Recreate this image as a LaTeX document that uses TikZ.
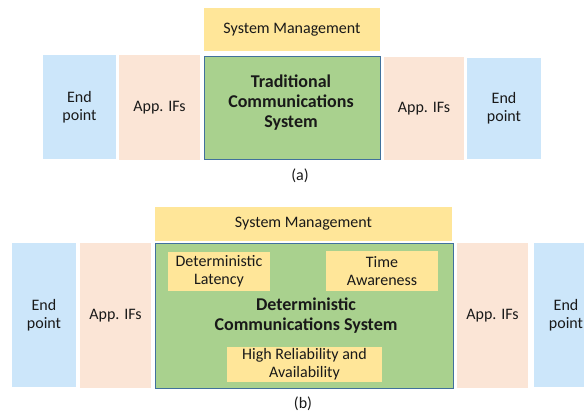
\documentclass[tikz,border=0pt]{standalone}
\usepackage{fontspec}
\setmainfont{Carlito}
\definecolor{epblue}{HTML}{CCE6FA}
\definecolor{apppeach}{HTML}{FBE5D6}
\definecolor{mgmtyellow}{HTML}{FFE699}
\definecolor{coregreen}{HTML}{A9D18E}
\definecolor{coreedge}{HTML}{41719C}
\tikzset{
  base/.style={inner sep=0pt, outer sep=0pt, align=center, font=\fontsize{16}{18}\selectfont, text=black!90},
  endbox/.style={base, fill=epblue},
  appbox/.style={base, fill=apppeach},
  mgmtbox/.style={base, fill=mgmtyellow},
  corebox/.style={base, fill=coregreen, draw=coreedge, line width=1pt},
  titletext/.style={base, font=\fontsize{18}{20}\selectfont\bfseries},
  caption/.style={base}
}
\begin{document}
\begin{tikzpicture}[x=1pt,y=-1pt]
\useasboundingbox (0,0) rectangle (584,412);
\clip (0,0) rectangle (584,412);
% (a)
\node[mgmtbox, minimum width=176pt, minimum height=43pt] (sysA) at (292,29.5) {System Management};
\node[endbox, minimum width=73pt, minimum height=104pt] (endAL) at (79.5,107) {End\\point};
\node[appbox, minimum width=81pt, minimum height=105pt] (appAL) at (159.5,107.5) {App. IFs};
\node[corebox, minimum width=176pt, minimum height=102pt] (coreA) at (292,108) {};
\node[titletext] (titleA) at (291,103) {Traditional\\Communications\\System};
\node[appbox, minimum width=80pt, minimum height=103pt] (appAR) at (424,108.5) {App. IFs};
\node[endbox, minimum width=74pt, minimum height=101pt] (endAR) at (504,108.5) {End\\point};
\node[caption] (labA) at (300,176) {(a)};
% (b)
\node[mgmtbox, minimum width=297pt, minimum height=34pt] (sysB) at (303.5,224) {System Management};
\node[endbox, minimum width=64pt, minimum height=144pt] (endBL) at (44,315) {End\\point};
\node[appbox, minimum width=71pt, minimum height=145pt] (appBL) at (115.5,315.5) {App. IFs};
\node[corebox, minimum width=298pt, minimum height=145pt] (coreB) at (304,315.5) {};
\node[mgmtbox, minimum width=102pt, minimum height=39pt] (lat) at (219,271.5) {Deterministic\\Latency};
\node[mgmtbox, minimum width=112pt, minimum height=40pt] (time) at (382,271) {Time\\Awareness};
\node[titletext] (titleB) at (306,315.5) {Deterministic\\Communications System};
\node[mgmtbox, minimum width=155pt, minimum height=35pt] (hra) at (304.5,364.5) {High Reliability and\\Availability};
\node[appbox, minimum width=71pt, minimum height=145pt] (appBR) at (492.5,315.5) {App. IFs};
\node[endbox, minimum width=64pt, minimum height=144pt] (endBR) at (566,315) {End\\point};
\node[caption] (labB) at (303,404) {(b)};
\end{tikzpicture}
\end{document}
